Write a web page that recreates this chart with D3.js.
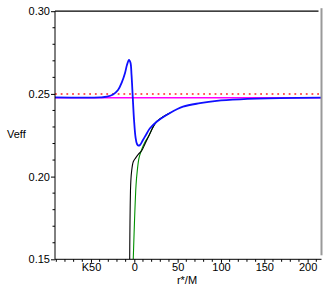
<!DOCTYPE html>
<html>
<head>
<meta charset="utf-8">
<script src="https://cdnjs.cloudflare.com/ajax/libs/d3/7.8.5/d3.min.js"></script>
<style>
  body { margin: 0; background: #fff; }
  text { font-family: "Liberation Sans", Arial, sans-serif; font-size: 11px; fill: #000; }
</style>
</head>
<body>
<script>
// Chart data
var blueR = [-91.5, -39.6, -31.5, -24.5, -18.8, -14.2, -10.7, -8.4, -6.1, -4.4, -3.2, -1.8, -0.3, 1.4, 3.1, 4.8, 6.6, 10.0, 14.7, 18.1, 25.8, 41.2, 56.2, 75.8, 95.1, 122, 168, 216];
var blueV = [0.2479, 0.2479, 0.2483, 0.2497, 0.2524, 0.2573, 0.2627, 0.2676, 0.2706, 0.2688, 0.2615, 0.2482, 0.2342, 0.2239, 0.2197, 0.2187, 0.2191, 0.2221, 0.2264, 0.2292, 0.2332, 0.2385, 0.2423, 0.2444, 0.2458, 0.2467, 0.2474, 0.2477];

// black and green run under the blue curve once they join it
var blackR = [-5.3, -4.2, -3.2, -1.2, 1.4, 4.8, 8.5, 12.3, 16.2, 25.8, 41.2];
var blackV = [0.15, 0.1948, 0.2027, 0.209, 0.2112, 0.2136, 0.2156, 0.2197, 0.2239, 0.2332, 0.2385];

var greenR = [-1.2, 2.0, 3.5, 5.4, 8.3, 11.8, 16.2, 25.8, 41.2];
var greenV = [0.15, 0.1948, 0.2039, 0.2112, 0.2161, 0.2203, 0.2242, 0.2332, 0.2385];

var magentaV = 0.2477;
var dottedV = 0.25;

var xMajor = [-50, 0, 50, 100, 150, 200];
var xMajorLabels = ["K50", "0", "50", "100", "150", "200"];
var xMinor = [-90, -80, -70, -60, -40, -30, -20, -10, 10, 20, 30, 40, 60, 70, 80, 90, 110, 120, 130, 140, 160, 170, 180, 190, 210];
var yMajor = [0.15, 0.20, 0.25, 0.30];
var yMajorLabels = ["0.15", "0.20", "0.25", "0.30"];
var yMinor = [0.16, 0.17, 0.18, 0.19, 0.21, 0.22, 0.23, 0.24, 0.26, 0.27, 0.28, 0.29];

// Chart parameters
var svgWidth = 327;
var svgHeight = 293;
var plotLeft = 55, plotRight = 321.5, plotTop = 11.2, plotBottom = 259.3;

var svg = d3.select("body")
            .append("svg")
            .attr("width", svgWidth)
            .attr("height", svgHeight);

var x = d3.scaleLinear().domain([-91.5, 216]).range([plotLeft, plotRight]);
var y = d3.scaleLinear().domain([0.15, 0.30]).range([plotBottom, plotTop]);

svg.append("clipPath").attr("id", "plotclip")
   .append("rect")
   .attr("x", plotLeft).attr("y", plotTop)
   .attr("width", plotRight - plotLeft).attr("height", plotBottom - plotTop);

var plot = svg.append("g").attr("clip-path", "url(#plotclip)");

// horizontal reference lines
plot.append("line")
    .attr("x1", plotLeft).attr("x2", plotRight)
    .attr("y1", y(dottedV)).attr("y2", y(dottedV))
    .attr("stroke", "#ff2020")
    .attr("stroke-width", 1.5)
    .attr("stroke-dasharray", "1.8,3.9");

plot.append("line")
    .attr("x1", plotLeft).attr("x2", plotRight)
    .attr("y1", y(magentaV)).attr("y2", y(magentaV))
    .attr("stroke", "#ff00ff")
    .attr("stroke-width", 1.5);

function pts(rs, vs) { return rs.map((r, i) => [r, vs[i]]); }

var line = d3.line()
             .x(d => x(d[0]))
             .y(d => y(d[1]))
             .curve(d3.curveCatmullRom.alpha(0.5));

plot.append("path")
    .attr("d", line(pts(greenR, greenV)))
    .attr("fill", "none").attr("stroke", "#009000").attr("stroke-width", 1.1);

plot.append("path")
    .attr("d", line(pts(blackR, blackV)))
    .attr("fill", "none").attr("stroke", "#000").attr("stroke-width", 1.1);

plot.append("path")
    .attr("d", line(pts(blueR, blueV)))
    .attr("fill", "none").attr("stroke", "#1010ff").attr("stroke-width", 1.8);

// Frame
svg.append("line")
   .attr("x1", plotLeft).attr("x2", plotRight - 3)
   .attr("y1", plotTop).attr("y2", plotTop)
   .attr("stroke", "#000").attr("stroke-width", 1.3);
svg.append("line")
   .attr("x1", plotRight).attr("x2", plotRight)
   .attr("y1", plotTop - 3).attr("y2", plotBottom - 4)
   .attr("stroke", "#999").attr("stroke-width", 2);

// Axes
var bottomAxis = d3.axisBottom(x).tickValues(xMajor).tickSize(3.5).tickPadding(0)
                   .tickFormat((d, i) => xMajorLabels[i]);
var leftAxis = d3.axisLeft(y).tickValues(yMajor).tickSize(4).tickPadding(1)
                 .tickFormat((d, i) => yMajorLabels[i]);

var xg = svg.append("g")
            .attr("transform", `translate(0, ${plotBottom})`)
            .call(bottomAxis);
xg.select(".domain").attr("d", `M${plotLeft},0H${plotRight}`);
xg.selectAll(".minor").data(xMinor).enter()
  .append("line").attr("class", "minor")
  .attr("x1", d => x(d)).attr("x2", d => x(d))
  .attr("y1", 0).attr("y2", 2.5)
  .attr("stroke", "#000");

var yg = svg.append("g")
            .attr("transform", `translate(${plotLeft}, 0)`)
            .call(leftAxis);
yg.select(".domain").attr("d", `M0,${plotTop}V${plotBottom}`);
yg.selectAll(".minor").data(yMinor).enter()
  .append("line").attr("class", "minor")
  .attr("x1", 0).attr("x2", -2.5)
  .attr("y1", d => y(d)).attr("y2", d => y(d))
  .attr("stroke", "#000");

svg.selectAll(".tick text").style("font-size", "11px").attr("fill", "#000");

// Axis titles
svg.append("text")
   .attr("x", 187)
   .attr("y", 284)
   .attr("text-anchor", "middle")
   .text("r*/M");

svg.append("text")
   .attr("x", 7)
   .attr("y", 138)
   .text("Veff");
</script>
</body>
</html>
